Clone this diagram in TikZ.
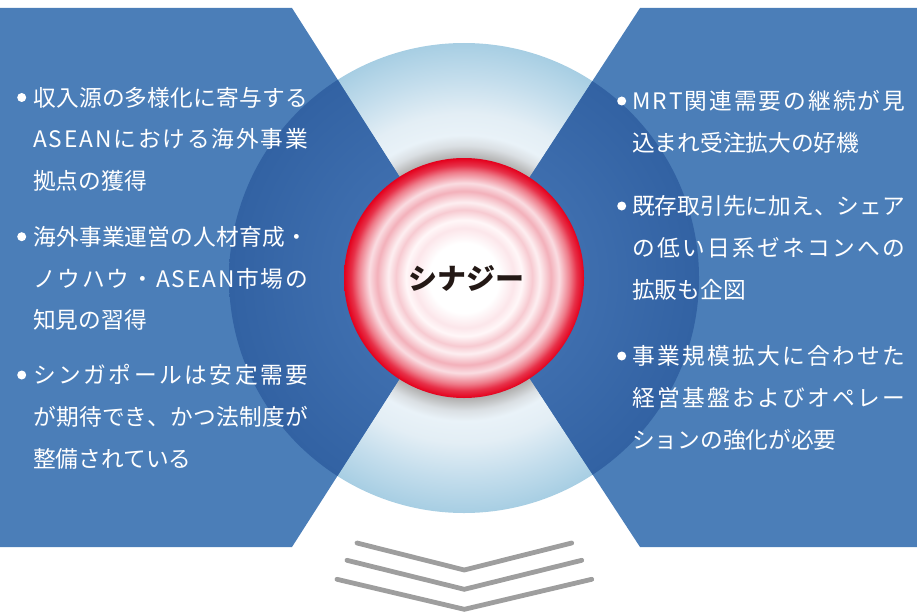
\documentclass[tikz,border=0pt]{standalone}
\usepackage{fontspec}
\setmainfont{Noto Sans CJK JP}
\definecolor{panel}{HTML}{4B7EB8}
\definecolor{chev}{HTML}{9E9E9E}
\definecolor{synt}{HTML}{231815}
% big light circle
\definecolor{bcA}{HTML}{A8A8A8}
\definecolor{bcB}{HTML}{B8B8B8}
\definecolor{bcC}{HTML}{DADFE3}
\definecolor{bcD}{HTML}{E9F2F8}
\definecolor{bcE}{HTML}{E3EEF5}
\definecolor{bcF}{HTML}{C3DDEC}
\definecolor{bcG}{HTML}{A7CEE3}
% dark overlap
\definecolor{dkA}{HTML}{3E6EAE}
\definecolor{dkB}{HTML}{3262A3}
% red circle
\definecolor{rdW}{HTML}{FFFFFF}
\definecolor{rd1}{HTML}{FCE6EA}
\definecolor{rd2}{HTML}{FFF7F8}
\definecolor{rd3}{HTML}{F7CAD1}
\definecolor{rd4}{HTML}{FDEFF1}
\definecolor{rd5}{HTML}{F3B0BA}
\definecolor{rd6}{HTML}{FADDE2}
\definecolor{rd7}{HTML}{EE7C8A}
\definecolor{rd8}{HTML}{E73048}
\definecolor{rd9}{HTML}{E4001C}
\pgfdeclareradialshading{bigc}{\pgfpoint{0bp}{0bp}}{color(0bp)=(bcA);color(12.5bp)=(bcA);color(13bp)=(bcB);color(14.1bp)=(bcC);color(15.2bp)=(bcD);color(17.5bp)=(bcE);color(21.3bp)=(bcF);color(25bp)=(bcG);color(50bp)=(bcG)}
\pgfdeclareradialshading{darkc}{\pgfpoint{0bp}{0bp}}{color(0bp)=(dkA);color(12.8bp)=(dkA);color(25bp)=(dkB);color(50bp)=(dkB)}
\pgfdeclareradialshading{redc}{\pgfpoint{0bp}{0bp}}{color(0bp)=(rdW);color(7.3bp)=(rdW);color(10.4bp)=(rd1);color(12.1bp)=(rd2);color(14.2bp)=(rd3);color(15.8bp)=(rd4);color(18.1bp)=(rd5);color(19.8bp)=(rd6);color(22.1bp)=(rd7);color(23.5bp)=(rd8);color(25bp)=(rd9);color(50bp)=(rd9)}
% spread characters of a line evenly (justified Japanese line)
\def\sprrest#1{\ifx#1\relax\else\hskip 0pt plus 1fil #1\expandafter\sprrest\fi}
\def\sprfirst#1{#1\sprrest}
\newcommand\jusL[1]{\makebox[275pt][s]{\sprfirst#1\relax}}
\newcommand\jusR[1]{\makebox[273pt][s]{\sprfirst#1\relax}}
\tikzset{
  line/.style={anchor=west,text=white,inner sep=0pt,font=\fontsize{22.7}{24}\selectfont,text height=20pt,text depth=2.7pt},
  bul/.style={circle,fill=white,inner sep=0pt,minimum size=9pt},
  chevline/.style={draw=chev,line width=4.8pt,line cap=round,line join=miter},
}
\begin{document}
\begin{tikzpicture}[x=1pt,y=-1pt]
\useasboundingbox (0,0) rectangle (917,615);
% big circle
\shade[shading=bigc] (464,278) circle (235);
% panels
\fill[panel] (0,8) -- (292,8) -- (464,278) -- (292,547) -- (0,547) -- cycle;
\fill[panel] (917,8) -- (640,8) -- (464,278) -- (640,547) -- (917,547) -- cycle;
\begin{scope}
\clip (0,8) -- (292,8) -- (464,278) -- (292,547) -- (0,547) -- cycle;
\shade[shading=darkc] (464,278) circle (235);
\end{scope}
\begin{scope}
\clip (917,8) -- (640,8) -- (464,278) -- (640,547) -- (917,547) -- cycle;
\shade[shading=darkc] (464,278) circle (235);
\end{scope}
% red circle
\shade[shading=redc] (464,278) circle (120);
\node[font=\fontsize{29}{30}\selectfont\bfseries,text=synt,inner sep=0pt] (syn) at (466,278) {シナジー};
% left texts
\node[bul] (lb1) at (21.7,97.5) {};
\node[line] (l1) at (33,97.5) {\jusL{収入源の多様化に寄与する}};
\node[line] (l2) at (33,139.3) {\jusL{ASEANにおける海外事業}};
\node[line] (l3) at (33,181) {拠点の獲得};
\node[bul] (lb2) at (21.7,236.7) {};
\node[line] (l4) at (33,236.7) {\jusL{海外事業運営の人材育成・}};
\node[line] (l5) at (33,278.5) {\jusL{ノウハウ・ASEAN市場の}};
\node[line] (l6) at (33,320.3) {知見の習得};
\node[bul] (lb3) at (21.7,375) {};
\node[line] (l7) at (33,375) {\jusL{シンガポールは安定需要}};
\node[line] (l8) at (33,416.7) {\jusL{が期待でき、かつ法制度が}};
\node[line] (l9) at (33,458.5) {整備されている};
% right texts
\node[bul] (rb1) at (621.7,101) {};
\node[line] (r1) at (632,101) {\jusR{MRT関連需要の継続が見}};
\node[line] (r2) at (632,143) {込まれ受注拡大の好機};
\node[bul] (rb2) at (621.7,206) {};
\node[line] (r3) at (632,206) {\jusR{既存取引先に加え、シェア}};
\node[line] (r4) at (632,248) {\jusR{の低い日系ゼネコンへの}};
\node[line] (r5) at (632,290) {拡販も企図};
\node[bul] (rb3) at (621.7,356) {};
\node[line] (r6) at (632,356) {\jusR{事業規模拡大に合わせた}};
\node[line] (r7) at (632,398) {\jusR{経営基盤およびオペレー}};
\node[line] (r8) at (632,440) {ションの強化が必要};
% chevrons
\draw[chevline] (357,543) -- (464.3,570) -- (571.7,543);
\draw[chevline] (347,560.3) -- (464.3,589.3) -- (581.7,560.3);
\draw[chevline] (337,579.3) -- (464.3,609.3) -- (591.7,579.3);
\end{tikzpicture}
\end{document}
